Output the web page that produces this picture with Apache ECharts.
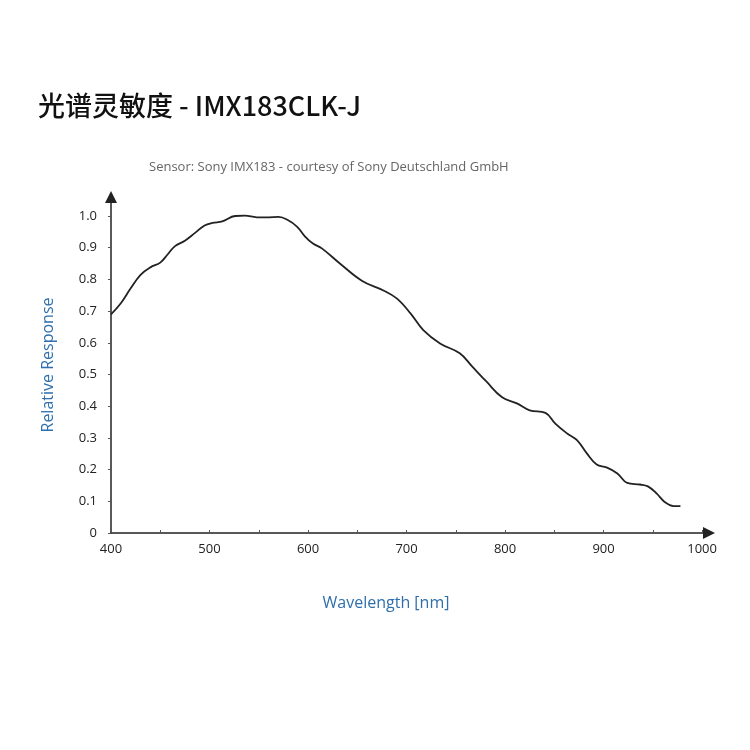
<!DOCTYPE html>
<html>
<head>
<meta charset="utf-8">
<script src="https://cdn.jsdelivr.net/npm/echarts@6/dist/echarts.min.js"></script>
<style>
  html, body { margin: 0; padding: 0; background: #fff; }
  #chart { width: 750px; height: 750px; }
</style>
</head>
<body>
<div id="chart"></div>
<script>
// wavelength (nm) and relative response
const wavelength = [400, 410, 420, 430, 440, 450, 457, 465, 475, 485, 495, 503, 513, 526, 536, 548, 560, 570, 579, 589, 597, 605, 614, 632, 655, 676, 690, 704, 717, 734, 754, 767, 781, 797, 812, 825, 841, 851, 863, 873, 883, 893, 903, 914, 924, 937, 945, 954, 962, 971, 978]
const response = [0.69, 0.725, 0.772, 0.814, 0.838, 0.853, 0.877, 0.905, 0.922, 0.946, 0.97, 0.978, 0.983, 1.0, 1.001, 0.996, 0.996, 0.997, 0.988, 0.966, 0.935, 0.913, 0.898, 0.851, 0.795, 0.766, 0.74, 0.693, 0.64, 0.598, 0.567, 0.524, 0.478, 0.428, 0.409, 0.387, 0.379, 0.345, 0.314, 0.293, 0.251, 0.216, 0.207, 0.188, 0.158, 0.153, 0.147, 0.124, 0.098, 0.085, 0.085]

const xTicks = [400, 450, 500, 550, 600, 650, 700, 750, 800, 850, 900, 950, 1000]
const xLabels = [400, 500, 600, 700, 800, 900, 1000]
const yTicks = [0, 0.1, 0.2, 0.3, 0.4, 0.5, 0.6, 0.7, 0.8, 0.9, 1.0]

const chart = echarts.init(document.getElementById('chart'))
chart.setOption({
  backgroundColor: '#fff',
  animation: false,
  title: [
    {
      text: '光谱灵敏度 - IMX183CLK-J',
      left: 33,
      top: 87,
      textStyle: {
        fontFamily: 'Noto Sans CJK SC',
        fontSize: 27,
        fontWeight: 500,
        color: '#111'
      }
    },
    {
      text: 'Sensor: Sony IMX183 - courtesy of Sony Deutschland GmbH',
      left: 144,
      top: 156,
      textStyle: {
        fontFamily: 'Open Sans',
        fontSize: 13,
        fontWeight: 'normal',
        color: '#666'
      }
    }
  ],
  grid: {
    left: 111,
    right: 41,
    top: 197,
    bottom: 217,
    containLabel: false
  },
  xAxis: {
    type: 'value',
    min: 400,
    max: 1007,
    name: 'Wavelength [nm]',
    nameLocation: 'middle',
    nameGap: 62,
    nameTextStyle: {
      color: '#2f6fad',
      fontSize: 16,
      fontFamily: 'Open Sans',
      padding: [0, 48, 0, 0]
    },
    splitLine: { show: false },
    axisLine: {
      symbol: ['none', 'triangle'],
      symbolSize: [12, 12],
      lineStyle: { color: '#222', width: 1.5 }
    },
    axisTick: {
      inside: true,
      length: 3,
      customValues: xTicks,
      lineStyle: { color: '#555' }
    },
    axisLabel: {
      customValues: xLabels,
      margin: 10,
      color: '#222',
      fontSize: 13,
      fontFamily: 'Open Sans',
      formatter: v => String(v)
    }
  },
  yAxis: {
    type: 'value',
    min: 0,
    max: 1.06,
    name: 'Relative Response',
    nameLocation: 'middle',
    nameGap: 55,
    nameTextStyle: {
      color: '#2f6fad',
      fontSize: 16,
      fontFamily: 'Open Sans',
      padding: [0, 0, 0, 0]
    },
    splitLine: { show: false },
    axisLine: {
      show: true,
      symbol: ['none', 'triangle'],
      symbolSize: [12, 12],
      lineStyle: { color: '#222', width: 1.5 }
    },
    axisTick: {
      show: true,
      length: 3,
      customValues: yTicks,
      lineStyle: { color: '#555' }
    },
    axisLabel: {
      customValues: yTicks,
      margin: 14,
      color: '#222',
      fontSize: 13,
      fontFamily: 'Open Sans',
      formatter: v => (v === 0 ? '0' : v.toFixed(1))
    }
  },
  series: [
    {
      type: 'line',
      data: wavelength.map((w, i) => [w, response[i]]),
      smooth: 0.4,
      showSymbol: false,
      lineStyle: { color: '#222', width: 1.8 }
    }
  ]
})
</script>
</body>
</html>
